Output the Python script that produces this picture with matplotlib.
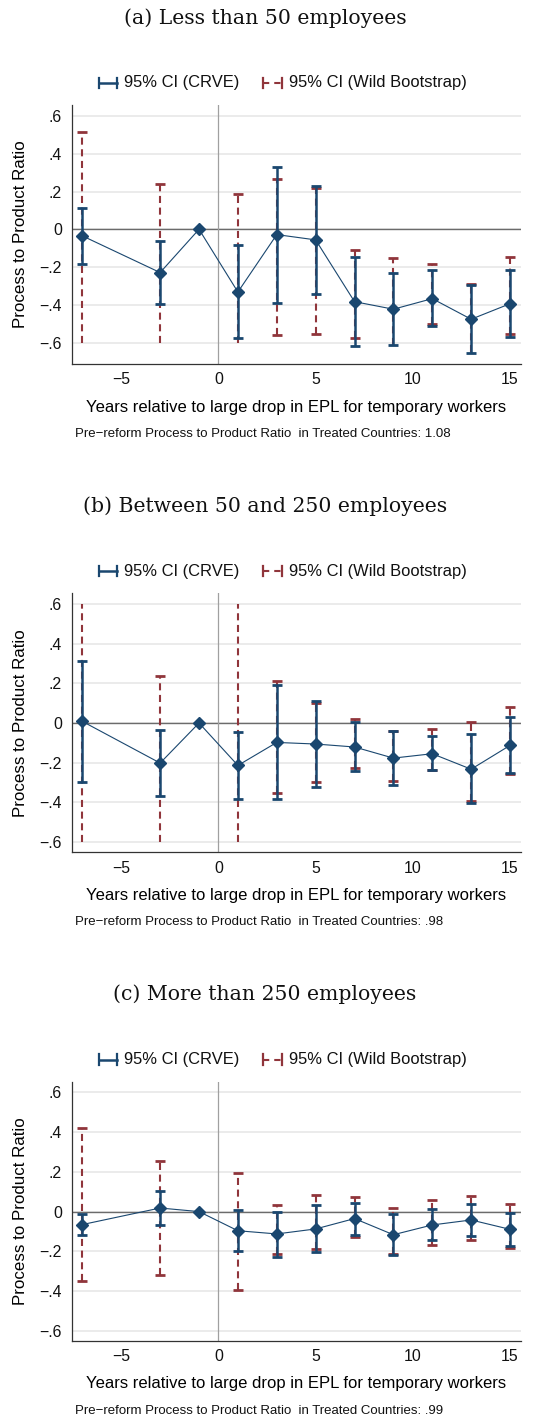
import numpy as np
import matplotlib
matplotlib.use("Agg")
import matplotlib.pyplot as plt
from matplotlib.lines import Line2D

# event-time grid (years relative to the reform); -1 is the reference year
years = [-7, -3, -1, 1, 3, 5, 7, 9, 11, 13, 15]
nan = np.nan

# (a) less than 50 employees
coef_a = [-0.035, -0.229, 0.0, -0.332, -0.028, -0.056, -0.383, -0.423, -0.367, -0.476, -0.394]
crve_lo_a = [-0.183, -0.395, nan, -0.573, -0.388, -0.342, -0.618, -0.614, -0.512, -0.656, -0.568]
crve_hi_a = [0.115, -0.064, nan, -0.085, 0.330, 0.229, -0.145, -0.233, -0.215, -0.296, -0.217]
wild_lo_a = [-0.600, -0.600, nan, -0.600, -0.561, -0.552, -0.577, -0.610, -0.501, -0.650, -0.554]
wild_hi_a = [0.517, 0.240, nan, 0.185, 0.266, 0.221, -0.109, -0.152, -0.182, -0.289, -0.146]

# (b) between 50 and 250 employees
coef_b = [0.008, -0.202, 0.0, -0.214, -0.098, -0.106, -0.121, -0.177, -0.155, -0.233, -0.113]
crve_lo_b = [-0.295, -0.368, nan, -0.383, -0.381, -0.322, -0.241, -0.315, -0.238, -0.405, -0.250]
crve_hi_b = [0.314, -0.037, nan, -0.047, 0.190, 0.110, 0.007, -0.039, -0.068, -0.057, 0.028]
wild_lo_b = [-0.600, -0.600, nan, -0.600, -0.352, -0.297, -0.228, -0.294, -0.236, -0.392, -0.258]
wild_hi_b = [0.600, 0.238, nan, 0.600, 0.214, 0.099, 0.019, -0.040, -0.031, 0.005, 0.080]

# (c) more than 250 employees
coef_c = [-0.065, 0.018, 0.0, -0.096, -0.112, -0.087, -0.035, -0.116, -0.067, -0.042, -0.089]
crve_lo_c = [-0.119, -0.065, nan, -0.198, -0.226, -0.201, -0.116, -0.218, -0.144, -0.121, -0.173]
crve_hi_c = [-0.012, 0.102, nan, 0.007, 0.000, 0.032, 0.045, -0.013, 0.012, 0.039, -0.005]
wild_lo_c = [-0.350, -0.317, nan, -0.392, -0.211, -0.186, -0.129, -0.215, -0.166, -0.141, -0.181]
wild_hi_c = [0.421, 0.253, nan, 0.193, 0.032, 0.082, 0.074, 0.020, 0.057, 0.079, 0.037]

titles = ["(a) Less than 50 employees",
          "(b) Between 50 and 250 employees",
          "(c) More than 250 employees"]
pre_reform = ["1.08", ".98", ".99"]

yticks = [-0.6, -0.4, -0.2, 0, 0.2, 0.4, 0.6]
xticks = [-5, 0, 5, 10, 15]

NAVY = "#1a476f"
MAROON = "#90353b"
CLIP = 0.6   # wild bootstrap bands are cut at +/- .6

plt.rcParams['font.family'] = ['Liberation Sans', 'DejaVu Sans']


def fmt_y(v):
    '''Stata-style tick label: .6, 0, -.2'''
    if abs(v) < 1e-9:
        return "0"
    s = ("%.1f" % abs(v)).lstrip("0")
    return ("\u2212" + s) if v < 0 else s


def fmt_x(v):
    return ("\u2212%d" % abs(v)) if v < 0 else "%d" % v


def draw_caps(ax, x, y, color, skip_clipped=False):
    x = np.asarray(x, float)
    y = np.asarray(y, float)
    keep = ~np.isnan(y)
    if skip_clipped:
        keep &= np.abs(y) < CLIP - 1e-9
    ax.plot(x[keep], y[keep], ls='none', marker='_', ms=6.5, mew=2.0,
            color=color, zorder=4 if color == NAVY else 3)


def draw_panel(ax, coef, crve_lo, crve_hi, wild_lo, wild_hi, ylim):
    x = np.array(years, float)
    ok = ~np.isnan(np.asarray(crve_lo, float))

    # background grid and reference lines
    for t in yticks:
        ax.axhline(t, color="#e6e6e6", lw=1.1, zorder=0)
    ax.axhline(0, color="#6b6b6b", lw=1.0, zorder=1)
    ax.axvline(0, color="#a0a0a0", lw=0.9, zorder=1)

    # wild bootstrap intervals: dashed maroon
    ax.vlines(x[ok], np.asarray(wild_lo)[ok], np.asarray(wild_hi)[ok],
              color=MAROON, lw=1.5, linestyles=(0, (3.4, 2.2)), zorder=2)
    draw_caps(ax, x, wild_lo, MAROON, skip_clipped=True)
    draw_caps(ax, x, wild_hi, MAROON, skip_clipped=True)

    # CRVE intervals: solid navy
    ax.vlines(x[ok], np.asarray(crve_lo)[ok], np.asarray(crve_hi)[ok],
              color=NAVY, lw=1.8, zorder=4)
    draw_caps(ax, x, crve_lo, NAVY)
    draw_caps(ax, x, crve_hi, NAVY)

    # point estimates
    ax.plot(x, coef, color=NAVY, lw=0.8, marker='D', ms=6.5, zorder=5)

    ax.set_xlim(-7.55, 15.55)
    ax.set_ylim(*ylim)
    ax.set_xticks(xticks)
    ax.set_xticklabels([fmt_x(v) for v in xticks])
    ax.set_yticks(yticks)
    ax.set_yticklabels([fmt_y(v) for v in yticks])
    ax.tick_params(length=0, labelsize=11.4, colors="#111111")
    ax.tick_params(axis='x', pad=6.0)
    ax.tick_params(axis='y', pad=7)
    for side in ("top", "right"):
        ax.spines[side].set_visible(False)
    for side in ("left", "bottom"):
        ax.spines[side].set_color("#333333")
        ax.spines[side].set_linewidth(0.9)

    ax.set_ylabel("Process to Product Ratio", fontsize=12.2)
    ax.yaxis.set_label_coords(-0.098, 0.5)
    ax.set_xlabel("Years relative to large drop in EPL for temporary workers", fontsize=11.95)
    ax.xaxis.set_label_coords(0.5, -0.167)
    ax.xaxis.label.set_va("center")


def draw_legend(ax):
    '''CI legend drawn above the plot area'''
    yl = 1.085
    tr = ax.transAxes
    # CRVE key
    ax.add_line(Line2D([0.061, 0.101], [yl, yl], color=NAVY, lw=1.8,
                       transform=tr, clip_on=False))
    for xc in (0.061, 0.101):
        ax.add_line(Line2D([xc, xc], [yl - 0.02, yl + 0.02], color=NAVY, lw=1.6,
                           transform=tr, clip_on=False))
    ax.text(0.117, yl, "95% CI (CRVE)", transform=tr, fontsize=11.9,
            va="center", ha="left", color="#111111")
    # wild bootstrap key
    ax.add_line(Line2D([0.426, 0.469], [yl, yl], color=MAROON, lw=1.5,
                       ls=(0, (3.0, 2.4)), transform=tr, clip_on=False))
    for xc in (0.426, 0.469):
        ax.add_line(Line2D([xc, xc], [yl - 0.02, yl + 0.02], color=MAROON, lw=1.6,
                           transform=tr, clip_on=False))
    ax.text(0.484, yl, "95% CI (Wild Bootstrap)", transform=tr, fontsize=11.9,
            va="center", ha="left", color="#111111")


def main():
    W, H = 548, 1420
    fig = plt.figure(figsize=(W / 100, H / 100), dpi=100)
    fig.patch.set_facecolor("white")

    panels = [
        (coef_a, crve_lo_a, crve_hi_a, wild_lo_a, wild_hi_a, (-0.713, 0.658)),
        (coef_b, crve_lo_b, crve_hi_b, wild_lo_b, wild_hi_b, (-0.652, 0.654)),
        (coef_c, crve_lo_c, crve_hi_c, wild_lo_c, wild_hi_c, (-0.647, 0.652)),
    ]
    step = 488.3       # vertical distance between panels, px
    left, right = 71.7, 520.7
    top0, bot0 = 105.0, 364.0

    for i, p in enumerate(panels):
        top = top0 + i * step
        bot = bot0 + i * step
        ax = fig.add_axes([left / W, 1 - bot / H, (right - left) / W, (bot - top) / H])
        ax.set_facecolor("white")
        draw_panel(ax, *p)
        draw_legend(ax)
        ax.text(0.007, -0.271,
                "Pre\u2212reform Process to Product Ratio  in Treated Countries: " + pre_reform[i],
                transform=ax.transAxes, fontsize=9.5, va="center", ha="left",
                color="#111111")
        fig.text(265 / W, 1 - (18 + i * step) / H, titles[i],
                 family="DejaVu Serif", fontsize=14.7, ha="center", va="center",
                 color="#111111")

    fig.savefig("out.png", dpi=100, facecolor="white")


if __name__ == '__main__':
    main()
